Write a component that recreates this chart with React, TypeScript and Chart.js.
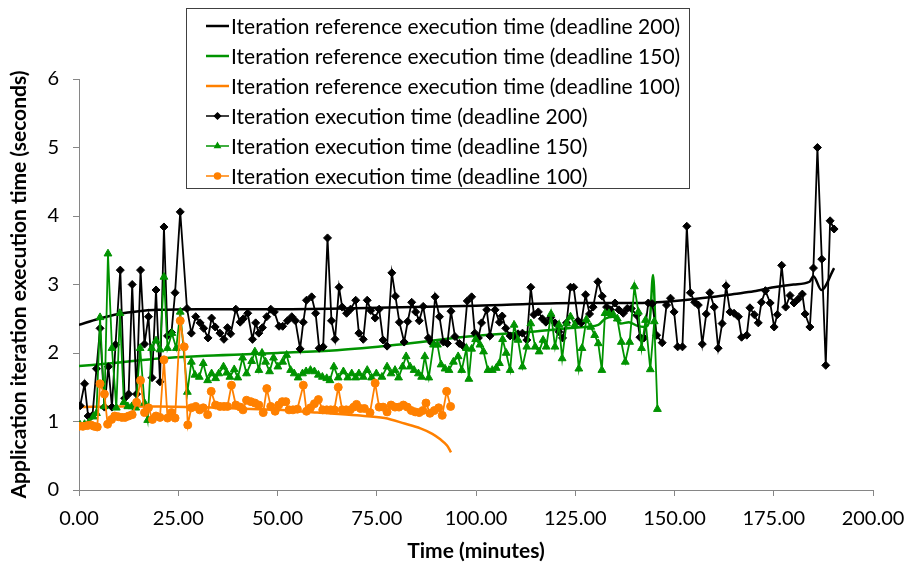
import React, { useEffect, useRef } from 'react';
import { Chart, registerables } from 'chart.js';
import { drawPoint } from 'chart.js/helpers';

Chart.register(...registerables);

const FONT = 'Lato, "Open Sans", sans-serif';

// Reference execution time curves
const ref200T = [0, 5, 10, 15, 20, 30, 50, 75, 100, 125, 140, 150, 160, 165, 170, 175, 180, 184, 185, 187, 190.2];
const ref200V = [2.41, 2.5, 2.57, 2.61, 2.63, 2.64, 2.64, 2.66, 2.69, 2.73, 2.73, 2.76, 2.82, 2.86, 2.9, 2.96, 3.0, 3.04, 3.12, 2.92, 3.24];

const ref150T = [0, 10, 20, 32, 50, 65, 80, 98, 114, 125, 130.8, 132.5, 134.5, 136.5, 138.5, 140.5, 142.5, 143.8, 144.6, 145.3];
const ref150V = [1.81, 1.86, 1.92, 1.96, 2.0, 2.04, 2.12, 2.24, 2.31, 2.37, 2.41, 2.5, 2.53, 2.43, 2.45, 2.4, 2.38, 2.5, 3.14, 2.2];

const ref100T = [0, 10, 20, 30, 40, 50, 60, 70, 77, 82, 86, 89, 91, 92.7, 93.7];
const ref100V = [1.21, 1.22, 1.22, 1.21, 1.19, 1.17, 1.13, 1.09, 1.05, 0.97, 0.9, 0.82, 0.74, 0.65, 0.55];

// Iteration execution time (deadline 200)
const it200T = [0.3, 1.4, 2.3, 3.4, 4.4, 5.3, 6.4, 7.4, 8.3, 9.2, 10.4, 11.5, 12.5, 13.4, 14.5, 15.5, 16.5, 17.5, 18.4, 19.4, 20.4, 21.4, 22.3, 23.3, 24.2, 25.5, 27.2, 28.3, 29.4, 30.5, 31.4, 32.5, 33.4, 34.3, 35.5, 36.5, 37.4, 38.2, 39.5, 40.6, 41.4, 42.5, 43.7, 44.5, 45.3, 46.2, 47.3, 48.3, 49.2, 50.4, 51.3, 52.5, 53.6, 54.5, 55.7, 56.5, 57.3, 58.6, 59.6, 60.5, 61.5, 62.6, 63.6, 64.5, 65.5, 66.3, 67.4, 68.4, 69.7, 70.5, 71.6, 72.6, 73.5, 74.6, 75.6, 76.6, 77.6, 78.8, 79.7, 80.7, 81.9, 82.8, 83.8, 84.8, 85.7, 86.7, 88.0, 88.8, 89.7, 90.8, 91.8, 92.8, 93.7, 94.7, 95.8, 96.8, 97.8, 98.9, 99.7, 100.6, 101.4, 102.7, 103.5, 104.8, 105.9, 106.6, 107.5, 108.6, 109.6, 110.6, 111.7, 112.8, 113.8, 114.6, 115.7, 116.7, 117.6, 118.8, 119.9, 120.9, 121.8, 122.8, 123.8, 124.6, 125.7, 126.5, 127.6, 128.6, 129.5, 130.7, 131.8, 132.9, 133.9, 135.0, 136.0, 137.1, 138.1, 139.1, 140.5, 141.3, 142.3, 143.4, 144.4, 145.5, 146.9, 148.0, 149.0, 149.9, 150.8, 152.0, 153.1, 154.0, 155.1, 156.0, 157.0, 158.0, 158.9, 160.0, 161.0, 162.0, 163.0, 164.0, 165.0, 166.1, 166.9, 168.2, 169.0, 170.1, 171.1, 171.9, 172.9, 174.1, 175.1, 175.9, 177.0, 178.0, 179.1, 180.1, 181.2, 182.2, 182.9, 184.1, 185.0, 186.0, 187.1, 188.1, 189.2, 190.2];
const it200V = [1.23, 1.55, 1.08, 1.09, 1.77, 2.36, 1.21, 1.8, 1.21, 2.12, 3.21, 1.34, 1.4, 3.0, 1.4, 3.21, 2.13, 2.53, 1.64, 2.92, 1.58, 3.84, 2.25, 2.3, 2.88, 4.06, 2.65, 2.29, 2.53, 2.44, 2.36, 2.22, 2.51, 2.38, 2.29, 2.2, 2.37, 2.28, 2.64, 2.45, 2.5, 2.58, 2.2, 2.44, 2.29, 2.37, 2.53, 2.64, 2.6, 2.39, 2.39, 2.47, 2.53, 2.47, 2.06, 2.45, 2.77, 2.82, 2.58, 2.07, 2.09, 3.68, 2.47, 2.2, 2.96, 2.67, 2.58, 2.64, 2.77, 2.29, 2.2, 2.77, 2.62, 2.51, 2.64, 2.19, 2.1, 3.17, 2.83, 2.45, 2.16, 2.46, 2.74, 2.6, 2.47, 2.68, 2.22, 2.15, 2.82, 2.53, 2.16, 2.14, 2.61, 2.24, 2.14, 2.1, 2.76, 2.82, 2.29, 2.22, 2.44, 2.63, 2.25, 2.63, 2.45, 2.54, 2.36, 2.25, 2.24, 2.28, 2.29, 2.19, 2.96, 2.56, 2.6, 2.5, 2.45, 2.52, 2.44, 2.31, 2.22, 2.44, 2.96, 2.96, 2.47, 2.44, 2.85, 2.57, 2.67, 3.04, 2.83, 2.67, 2.63, 2.73, 2.63, 2.58, 2.65, 2.65, 2.55, 2.23, 2.22, 2.73, 2.72, 2.26, 2.15, 2.7, 2.8, 2.6, 2.09, 2.09, 3.85, 2.88, 2.74, 2.7, 2.13, 2.57, 2.88, 2.67, 2.07, 2.43, 2.98, 2.6, 2.58, 2.53, 2.23, 2.26, 2.66, 2.56, 2.44, 2.74, 2.91, 2.73, 2.38, 2.56, 3.28, 2.67, 2.84, 2.73, 2.79, 2.86, 2.57, 2.38, 3.24, 5.0, 3.37, 1.82, 3.93, 3.81];

// Iteration execution time (deadline 150)
const it150T = [0.3, 1.4, 2.4, 3.6, 4.4, 5.3, 6.4, 7.3, 8.3, 9.4, 10.3, 11.3, 12.3, 13.3, 14.3, 15.4, 16.5, 17.3, 18.3, 19.4, 20.4, 21.4, 22.3, 23.4, 24.5, 25.5, 27.3, 28.3, 29.2, 30.3, 31.3, 32.4, 33.4, 34.4, 35.2, 36.4, 37.2, 38.0, 39.1, 40.0, 41.2, 42.2, 43.5, 44.3, 45.3, 46.1, 47.0, 48.0, 49.0, 50.1, 51.3, 52.3, 53.3, 54.2, 55.2, 56.3, 57.2, 58.3, 59.3, 60.3, 61.3, 62.4, 63.2, 64.2, 65.3, 66.6, 67.7, 68.7, 69.7, 70.5, 71.6, 72.6, 73.7, 74.9, 76.3, 77.6, 78.6, 79.6, 80.5, 81.5, 82.4, 83.4, 84.4, 85.5, 86.3, 87.1, 88.1, 89.3, 90.3, 91.2, 92.2, 93.2, 94.3, 95.5, 96.4, 97.6, 98.2, 98.9, 99.9, 101.0, 101.9, 103.0, 104.1, 105.1, 105.9, 106.7, 107.6, 108.6, 109.6, 110.6, 111.7, 112.8, 113.8, 114.9, 115.9, 116.9, 117.7, 118.9, 119.9, 120.9, 121.7, 122.8, 123.8, 124.9, 125.9, 126.7, 127.8, 128.9, 129.9, 130.8, 131.7, 132.5, 133.5, 134.6, 135.6, 136.6, 137.6, 138.7, 139.9, 140.9, 141.7, 142.7, 143.9, 144.9, 145.7];
const it150V = [0.95, 0.96, 0.98, 1.07, 1.12, 2.52, 1.22, 3.45, 2.07, 1.2, 2.58, 1.28, 1.22, 1.22, 1.2, 2.07, 1.27, 1.02, 2.07, 2.18, 2.05, 3.11, 2.07, 2.29, 2.07, 2.6, 1.43, 1.87, 1.68, 1.65, 1.85, 1.6, 1.7, 1.63, 1.7, 1.8, 1.71, 1.65, 1.76, 1.64, 1.93, 1.7, 1.88, 2.02, 1.75, 2.0, 1.87, 1.73, 1.93, 1.8, 1.87, 1.97, 1.75, 1.7, 1.64, 1.7, 1.73, 1.75, 1.73, 1.68, 1.65, 1.63, 1.6, 1.8, 1.64, 1.73, 1.64, 1.7, 1.64, 1.7, 1.65, 1.75, 1.64, 1.7, 1.65, 1.8, 1.7, 1.75, 1.64, 1.8, 1.95, 1.8, 1.75, 1.7, 1.65, 1.95, 1.64, 2.12, 2.12, 1.83, 1.77, 1.75, 1.87, 1.95, 1.75, 2.07, 1.62, 2.06, 2.2, 2.12, 2.02, 1.75, 1.75, 1.78, 1.85, 2.2, 2.0, 1.75, 2.41, 2.19, 1.8, 2.09, 2.43, 2.09, 2.02, 2.19, 2.09, 2.57, 2.09, 2.41, 1.92, 2.43, 2.53, 2.41, 1.77, 2.07, 2.49, 2.38, 2.26, 2.14, 1.75, 2.58, 2.58, 2.56, 2.5, 2.16, 1.87, 2.16, 2.97, 2.6, 2.07, 2.48, 1.76, 2.46, 1.18];

// Iteration execution time (deadline 100)
const it100T = [0.0, 1.0, 2.1, 3.0, 3.8, 4.6, 5.3, 6.4, 7.2, 8.2, 9.0, 9.9, 10.8, 11.6, 12.5, 13.4, 14.5, 15.5, 16.5, 17.5, 18.5, 19.4, 20.4, 21.4, 22.3, 23.3, 24.2, 25.5, 26.5, 27.4, 28.3, 29.4, 30.4, 31.3, 32.4, 33.3, 34.4, 35.5, 36.5, 37.4, 38.4, 39.5, 40.6, 41.3, 42.2, 43.3, 44.3, 45.3, 46.4, 47.3, 48.3, 49.4, 50.3, 51.2, 52.1, 52.9, 53.9, 55.0, 56.5, 57.3, 58.3, 59.3, 60.3, 61.4, 62.4, 63.4, 64.3, 65.3, 66.3, 67.3, 68.3, 69.2, 69.9, 70.9, 71.9, 73.3, 74.6, 75.6, 76.6, 77.6, 78.6, 79.6, 80.6, 81.7, 82.7, 83.7, 84.7, 85.7, 86.6, 87.4, 88.4, 89.5, 90.6, 91.5, 92.6, 93.6];
const it100V = [0.93, 0.93, 0.94, 0.95, 0.93, 0.92, 1.55, 1.4, 0.96, 1.03, 1.08, 1.07, 1.06, 1.06, 1.08, 1.1, 1.28, 1.6, 1.13, 1.2, 1.03, 1.08, 1.06, 1.9, 1.05, 1.13, 1.05, 2.47, 2.09, 0.95, 1.2, 1.22, 1.17, 1.2, 1.1, 1.44, 1.24, 1.22, 1.22, 1.22, 1.53, 1.24, 1.21, 1.17, 1.31, 1.29, 1.27, 1.24, 1.13, 1.48, 1.22, 1.15, 1.24, 1.29, 1.29, 1.17, 1.17, 1.18, 1.53, 1.15, 1.2, 1.26, 1.32, 1.17, 1.17, 1.17, 1.17, 1.5, 1.17, 1.17, 1.17, 1.21, 1.25, 1.19, 1.19, 1.13, 1.56, 1.21, 1.21, 1.14, 1.24, 1.21, 1.21, 1.24, 1.21, 1.16, 1.14, 1.13, 1.16, 1.27, 1.12, 1.16, 1.2, 1.09, 1.44, 1.22];

const xTicks = [0, 25, 50, 75, 100, 125, 150, 175, 200];
const yTicks = [0, 1, 2, 3, 4, 5, 6];

const BLACK = '#000000';
const GREEN = '#009300';
const ORANGE = '#FF8000';

const zip = (t: number[], v: number[]) => t.map((x, i) => ({ x, y: v[i] }));

const legendPlugin = {
  id: 'boxLegend',
  afterDraw(chart: any) {
    const ctx = chart.ctx;
    ctx.save();
    ctx.fillStyle = '#ffffff';
    ctx.fillRect(186.5, 8.5, 503, 180);
    ctx.strokeStyle = '#404040';
    ctx.lineWidth = 1;
    ctx.strokeRect(186.5, 8.5, 503, 180);
    chart.data.datasets.forEach((ds: any, i: number) => {
      const y = 26 + i * 30;
      ctx.strokeStyle = ds.borderColor;
      ctx.lineWidth = ds.pointRadius > 0 ? 1.5 : 2.5;
      ctx.beginPath();
      ctx.moveTo(206, y);
      ctx.lineTo(229, y);
      ctx.stroke();
      if (ds.pointRadius > 0) {
        ctx.fillStyle = ds.borderColor;
        ctx.strokeStyle = ds.borderColor;
        drawPoint(ctx, { pointStyle: ds.pointStyle, radius: 3, borderWidth: 1, rotation: 0 } as any, 217.5, y);
      }
      ctx.fillStyle = '#000000';
      ctx.font = `21px ${FONT}`;
      ctx.textBaseline = 'middle';
      ctx.textAlign = 'left';
      ctx.fillText(ds.label, 231, y + 1);
    });
    ctx.restore();
  },
};

export default function App() {
  const ref = useRef<HTMLCanvasElement | null>(null);
  useEffect(() => {
    if (!ref.current) return;
    const chart = new Chart(ref.current, {
      type: 'line',
      data: {
        datasets: [
          { label: 'Iteration reference execution time (deadline 200)', data: zip(ref200T, ref200V), borderColor: BLACK, backgroundColor: BLACK, borderWidth: 2.5, pointRadius: 0, cubicInterpolationMode: 'monotone', order: 6 },
          { label: 'Iteration reference execution time (deadline 150)', data: zip(ref150T, ref150V), borderColor: GREEN, backgroundColor: GREEN, borderWidth: 2.5, pointRadius: 0, cubicInterpolationMode: 'monotone', order: 5 },
          { label: 'Iteration reference execution time (deadline 100)', data: zip(ref100T, ref100V), borderColor: ORANGE, backgroundColor: ORANGE, borderWidth: 2.5, pointRadius: 0, cubicInterpolationMode: 'monotone', order: 4 },
          { label: 'Iteration execution time (deadline 200)', data: zip(it200T, it200V), borderColor: BLACK, backgroundColor: BLACK, pointBackgroundColor: BLACK, pointBorderColor: BLACK, borderWidth: 1.8, pointStyle: 'rectRot', pointRadius: 4, pointBorderWidth: 1, tension: 0, order: 3 },
          { label: 'Iteration execution time (deadline 150)', data: zip(it150T, it150V), borderColor: GREEN, backgroundColor: GREEN, pointBackgroundColor: GREEN, pointBorderColor: GREEN, borderWidth: 1.8, pointStyle: 'triangle', pointRadius: 4.5, pointBorderWidth: 1, tension: 0, order: 2 },
          { label: 'Iteration execution time (deadline 100)', data: zip(it100T, it100V), borderColor: ORANGE, backgroundColor: ORANGE, pointBackgroundColor: ORANGE, pointBorderColor: ORANGE, borderWidth: 1.8, pointStyle: 'circle', pointRadius: 4, pointBorderWidth: 1, tension: 0, order: 1 },
        ] as any,
      },
      options: {
        animation: false,
        responsive: false,
        devicePixelRatio: 1,
        layout: { padding: { top: 79, right: 34, left: 0, bottom: 0 } },
        plugins: { legend: { display: false }, tooltip: { enabled: false } },
        scales: {
          x: {
            type: 'linear',
            min: 0,
            max: 200,
            afterFit: (s: any) => { s.height = 79; s.paddingLeft = 0; s.paddingRight = 0; },
            afterBuildTicks: (s: any) => { s.ticks = xTicks.map((v) => ({ value: v })); },
            ticks: { callback: (v: any) => Number(v).toFixed(2), font: { family: FONT, size: 20 }, color: '#000', padding: 11, maxRotation: 0 },
            grid: { display: true, drawOnChartArea: false, drawTicks: true, tickLength: 6, color: '#868686' },
            border: { display: true, color: '#868686', width: 1 },
            title: { display: true, text: 'Time (minutes)', font: { family: FONT, size: 21, weight: 'bold' }, color: '#000', padding: { top: 5, bottom: 5 } },
          },
          y: {
            type: 'linear',
            min: 0,
            max: 6,
            afterFit: (s: any) => { s.width = 79; s.paddingTop = 0; s.paddingBottom = 0; },
            afterBuildTicks: (s: any) => { s.ticks = yTicks.map((v) => ({ value: v })); },
            ticks: { font: { family: FONT, size: 20 }, color: '#000', padding: 14 },
            grid: { display: true, drawOnChartArea: false, drawTicks: true, tickLength: 6, color: '#868686' },
            border: { display: true, color: '#868686', width: 1 },
            title: { display: true, text: 'Application iteration execution time (seconds)', font: { family: FONT, size: 21, weight: 'bold' }, color: '#000', padding: { top: 7, bottom: 0 } },
          },
        },
      } as any,
      plugins: [legendPlugin],
    });
    return () => chart.destroy();
  }, []);
  return (
    <div style={{ position: 'absolute', left: 0, top: 0, width: 907, height: 569, background: '#fff' }}>
      <canvas ref={ref} width={907} height={569} style={{ width: 907, height: 569, display: 'block' }} />
    </div>
  );
}
